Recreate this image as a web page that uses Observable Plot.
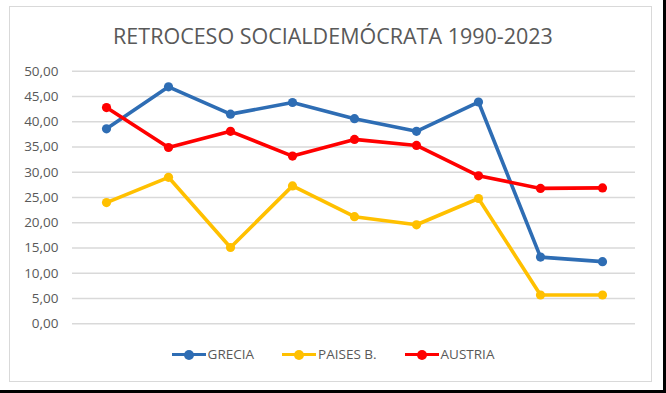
<!DOCTYPE html>
<html>
<head>
<meta charset="utf-8">
<script src="https://cdn.jsdelivr.net/npm/d3@7"></script>
<script src="https://cdn.jsdelivr.net/npm/@observablehq/plot@0.6"></script>
<style>
  html, body { margin: 0; padding: 0; background: #fff; }
  #wrap { position: relative; width: 666px; height: 393px; overflow: hidden; background: #fff; font-family: "Open Sans", "Noto Sans", sans-serif; }
  #frame { position: absolute; left: 9px; top: 6px; width: 643px; height: 376px; border: 1.5px solid #d9d9d9; box-sizing: border-box; }
  #edgeB { position: absolute; left: 0; top: 390px; width: 666px; height: 3px; background: #000; }
  #edgeR { position: absolute; left: 663px; top: 0; width: 3px; height: 393px; background: #000; }
  #title { position: absolute; left: 0; width: 666px; top: 21px; text-align: center; font-size: 21.5px; color: #595959; letter-spacing: 0px; }
  #legend { position: absolute; left: 0; width: 666px; top: 345px; display: flex; justify-content: center; gap: 28px; font-size: 13.5px; color: #595959; }
  .item { display: flex; align-items: center; }
  .sw { position: relative; width: 34px; height: 12px; margin-right: 2px; }
  .sw .ln { position: absolute; left: 0; right: 0; top: 4.5px; height: 3.5px; }
  .sw .dt { position: absolute; left: 12px; top: 1.5px; width: 10px; height: 10px; border-radius: 50%; }
  #plot { position: absolute; left: 0; top: 0; }
</style>
</head>
<body>
<div id="wrap">
  <div id="frame"></div>
  <div id="plot"></div>
  <div id="title">RETROCESO SOCIALDEMÓCRATA 1990-2023</div>
  <div id="legend"></div>
  <div id="edgeB"></div>
  <div id="edgeR"></div>
</div>
<script>
const points = [1, 2, 3, 4, 5, 6, 7, 8, 9];
const seriesNames = ["GRECIA", "PAISES B.", "AUSTRIA"];
const seriesColors = ["#2e6db4", "#ffc000", "#ff0000"];
const grecia = [38.6, 46.9, 41.5, 43.8, 40.6, 38.1, 43.9, 13.2, 12.3];
const paisesB = [24.0, 29.0, 15.1, 27.3, 21.2, 19.6, 24.8, 5.7, 5.7];
const austria = [42.8, 34.9, 38.1, 33.2, 36.5, 35.3, 29.3, 26.8, 26.9];
const yTicks = [0, 5, 10, 15, 20, 25, 30, 35, 40, 45, 50];

const allValues = [grecia, paisesB, austria];
const data = [];
allValues.forEach((vals, s) => vals.forEach((v, i) => data.push({ serie: seriesNames[s], x: points[i], y: v })));

const fmt = d => d.toFixed(2).replace(".", ",");

const chart = Plot.plot({
  width: 666,
  height: 393,
  marginTop: 70.7,
  marginBottom: 69.7,
  marginLeft: 72,
  marginRight: 31,
  style: { background: "transparent", fontFamily: "'Open Sans', 'Noto Sans', sans-serif" },
  x: { type: "point", domain: points, padding: 0.5, axis: null },
  y: { domain: [0, 50], ticks: yTicks, tickFormat: fmt, label: null },
  color: { domain: seriesNames, range: seriesColors },
  marks: [
    Plot.gridY(yTicks, { stroke: "#d9d9d9", strokeOpacity: 1, strokeWidth: 1.4 }),
    Plot.axisY(yTicks, { tickSize: 0, tickPadding: 14, tickFormat: fmt, fontSize: 13.5, fill: "#595959", label: null }),
    Plot.line(data, { x: "x", y: "y", z: "serie", stroke: "serie", strokeWidth: 3.6, curve: "linear" }),
    Plot.dot(data, { x: "x", y: "y", fill: "serie", r: 4.6, stroke: "none" })
  ]
});
document.getElementById("plot").appendChild(chart);

const legend = document.getElementById("legend");
seriesNames.forEach((n, i) => {
  const it = document.createElement("div");
  it.className = "item";
  it.innerHTML = `<div class="sw"><div class="ln" style="background:${seriesColors[i]}"></div><div class="dt" style="background:${seriesColors[i]}"></div></div><span>${n}</span>`;
  legend.appendChild(it);
});
</script>
</body>
</html>
